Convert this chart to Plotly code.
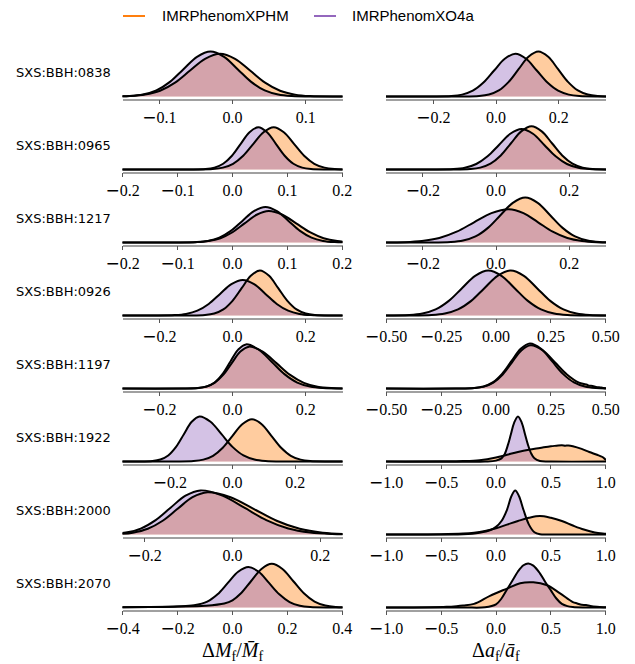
import plotly.graph_objects as go

W, H = 635, 664
ORANGE = "#ff7f0e"
PURPLE = "#9467bd"
ORANGE_FILL = "rgba(255,127,14,0.4)"
PURPLE_FILL = "rgba(148,103,189,0.4)"

sims = ["SXS:BBH:0838", "SXS:BBH:0965", "SXS:BBH:1217", "SXS:BBH:0926",
        "SXS:BBH:1197", "SXS:BBH:1922", "SXS:BBH:2000", "SXS:BBH:2070"]
series_names = ["IMRPhenomXPHM", "IMRPhenomXO4a"]

mf_halfrange = [0.15, 0.2, 0.2, 0.3, 0.3, 0.35, 0.25, 0.4]
af_halfrange = [0.35, 0.3, 0.3, 0.5, 0.5, 1.0, 1.0, 1.0]

mf_tickvals = [[-0.1, 0.0, 0.1], [-0.2, -0.1, 0.0, 0.1, 0.2], [-0.2, -0.1, 0.0, 0.1, 0.2],
               [-0.2, 0.0, 0.2], [-0.2, 0.0, 0.2], [-0.2, 0.0, 0.2], [-0.2, 0.0, 0.2],
               [-0.4, -0.2, 0.0, 0.2, 0.4]]
mf_ticktext = [["−0.1", "0.0", "0.1"], ["−0.2", "−0.1", "0.0", "0.1", "0.2"],
               ["−0.2", "−0.1", "0.0", "0.1", "0.2"], ["−0.2", "0.0", "0.2"],
               ["−0.2", "0.0", "0.2"], ["−0.2", "0.0", "0.2"], ["−0.2", "0.0", "0.2"],
               ["−0.4", "−0.2", "0.0", "0.2", "0.4"]]
af_tickvals = [[-0.2, 0.0, 0.2], [-0.2, 0.0, 0.2], [-0.2, 0.0, 0.2],
               [-0.5, -0.25, 0.0, 0.25, 0.5], [-0.5, -0.25, 0.0, 0.25, 0.5],
               [-1.0, -0.5, 0.0, 0.5, 1.0], [-1.0, -0.5, 0.0, 0.5, 1.0], [-1.0, -0.5, 0.0, 0.5, 1.0]]
af_ticktext = [["−0.2", "0.0", "0.2"], ["−0.2", "0.0", "0.2"], ["−0.2", "0.0", "0.2"],
               ["−0.50", "−0.25", "0.00", "0.25", "0.50"], ["−0.50", "−0.25", "0.00", "0.25", "0.50"],
               ["−1.0", "−0.5", "0.0", "0.5", "1.0"], ["−1.0", "−0.5", "0.0", "0.5", "1.0"],
               ["−1.0", "−0.5", "0.0", "0.5", "1.0"]]

# ---- densities (x, relative height) ----
# SXS:BBH:0838
mf_0838_xphm = ([-0.181, -0.140, -0.1195, -0.099, -0.0785, -0.058, -0.0375, -0.017, 0.0035, 0.024, 0.0445, 0.065, 0.0855, 0.106, 0.147, 0.2],
                [0, 0.010, 0.042, 0.128, 0.309, 0.577, 0.838, 0.95, 0.838, 0.577, 0.309, 0.128, 0.042, 0.010, 0, 0])
mf_0838_xo4a = ([-0.2, -0.178, -0.141, -0.1225, -0.104, -0.0855, -0.067, -0.0485, -0.030, -0.0115, 0.007, 0.0255, 0.044, 0.0625, 0.081, 0.118, 0.2],
                [0, 0, 0.011, 0.044, 0.135, 0.325, 0.607, 0.882, 1.0, 0.882, 0.607, 0.325, 0.135, 0.044, 0.011, 0, 0])
af_0838_xphm = ([-0.4, -0.117, -0.054, -0.0225, 0.009, 0.0405, 0.072, 0.1035, 0.135, 0.1665, 0.198, 0.2295, 0.261, 0.2925, 0.324, 0.387],
                [0, 0, 0.011, 0.044, 0.135, 0.325, 0.607, 0.882, 1.0, 0.882, 0.607, 0.325, 0.135, 0.044, 0.011, 0])
af_0838_xo4a = ([-0.4, -0.210, -0.142, -0.108, -0.074, -0.040, -0.006, 0.028, 0.062, 0.096, 0.130, 0.164, 0.198, 0.232, 0.266, 0.334, 0.4],
                [0, 0, 0.010, 0.042, 0.128, 0.309, 0.577, 0.838, 0.95, 0.838, 0.577, 0.309, 0.128, 0.042, 0.010, 0, 0])
# SXS:BBH:0965
mf_0965_xphm = ([-0.25, -0.073, -0.036, -0.0175, 0.001, 0.0195, 0.038, 0.0565, 0.075, 0.0935, 0.112, 0.1305, 0.149, 0.1675, 0.186, 0.223],
                [0, 0, 0.010, 0.041, 0.127, 0.306, 0.571, 0.829, 0.94, 0.829, 0.571, 0.306, 0.127, 0.041, 0.010, 0])
mf_0965_xo4a = ([-0.25, -0.081, -0.049, -0.033, -0.017, -0.001, 0.015, 0.031, 0.047, 0.063, 0.079, 0.095, 0.111, 0.127, 0.143, 0.175, 0.25],
                [0, 0, 0.010, 0.041, 0.127, 0.306, 0.571, 0.829, 0.94, 0.829, 0.571, 0.306, 0.127, 0.041, 0.010, 0, 0])
af_0965_xphm = ([-0.35, -0.127, -0.071, -0.043, -0.015, 0.013, 0.041, 0.069, 0.097, 0.125, 0.153, 0.181, 0.209, 0.237, 0.265, 0.321],
                [0, 0, 0.011, 0.042, 0.130, 0.312, 0.583, 0.847, 0.96, 0.847, 0.583, 0.312, 0.130, 0.042, 0.011, 0])
af_0965_xo4a = ([-0.35, -0.178, -0.116, -0.085, -0.054, -0.023, 0.008, 0.039, 0.070, 0.101, 0.132, 0.163, 0.194, 0.225, 0.256, 0.318, 0.35],
                [0, 0, 0.010, 0.040, 0.122, 0.293, 0.546, 0.794, 0.90, 0.794, 0.546, 0.293, 0.122, 0.040, 0.010, 0, 0])
# SXS:BBH:1217
mf_1217_xphm = ([-0.25, -0.110, -0.066, -0.044, -0.022, 0.000, 0.022, 0.044, 0.066, 0.091, 0.116, 0.141, 0.166, 0.191, 0.216, 0.266],
                [0, 0, 0.008, 0.031, 0.095, 0.228, 0.425, 0.617, 0.70, 0.617, 0.425, 0.228, 0.095, 0.031, 0.008, 0])
mf_1217_xo4a = ([-0.25, -0.108, -0.066, -0.045, -0.024, -0.003, 0.018, 0.039, 0.060, 0.081, 0.102, 0.123, 0.144, 0.165, 0.186, 0.228, 0.25],
                [0, 0, 0.009, 0.035, 0.107, 0.257, 0.480, 0.697, 0.79, 0.697, 0.480, 0.257, 0.107, 0.035, 0.009, 0, 0])
af_1217_xphm = ([-0.35, -0.192, -0.124, -0.090, -0.056, -0.022, 0.012, 0.046, 0.080, 0.114, 0.148, 0.182, 0.216, 0.250, 0.284, 0.352],
                [0, 0, 0.011, 0.044, 0.135, 0.325, 0.607, 0.882, 1.0, 0.882, 0.607, 0.325, 0.135, 0.044, 0.011, 0])
af_1217_xo4a = ([-0.4, -0.345, -0.250, -0.2025, -0.155, -0.1075, -0.060, -0.0125, 0.035, 0.075, 0.115, 0.155, 0.195, 0.235, 0.275, 0.355],
                [0, 0, 0.008, 0.033, 0.100, 0.240, 0.449, 0.653, 0.74, 0.653, 0.449, 0.240, 0.100, 0.033, 0.008, 0])
# SXS:BBH:0926
mf_0926_xphm = ([-0.35, -0.125, -0.075, -0.050, -0.025, 0.000, 0.025, 0.050, 0.075, 0.100, 0.125, 0.150, 0.175, 0.200, 0.225, 0.275, 0.35],
                [0, 0, 0.011, 0.044, 0.135, 0.325, 0.607, 0.882, 1.0, 0.882, 0.607, 0.325, 0.135, 0.044, 0.011, 0, 0])
mf_0926_xo4a = ([-0.35, -0.220, -0.158, -0.127, -0.096, -0.065, -0.034, -0.003, 0.028, 0.059, 0.090, 0.121, 0.152, 0.183, 0.214, 0.276, 0.35],
                [0, 0, 0.009, 0.035, 0.107, 0.257, 0.480, 0.697, 0.79, 0.697, 0.480, 0.257, 0.107, 0.035, 0.009, 0, 0])
af_0926_xphm = ([-0.6, -0.413, -0.293, -0.233, -0.173, -0.113, -0.053, 0.007, 0.067, 0.127, 0.187, 0.247, 0.307, 0.367, 0.427, 0.547],
                [0, 0, 0.011, 0.044, 0.135, 0.325, 0.607, 0.882, 1.0, 0.882, 0.607, 0.325, 0.135, 0.044, 0.011, 0])
af_0926_xo4a = ([-0.515, -0.395, -0.335, -0.275, -0.215, -0.155, -0.095, -0.035, 0.025, 0.085, 0.145, 0.205, 0.265, 0.325, 0.445, 0.6],
                [0, 0.011, 0.044, 0.135, 0.325, 0.607, 0.882, 1.0, 0.882, 0.607, 0.325, 0.135, 0.044, 0.011, 0, 0])
# SXS:BBH:1197
mf_1197_xphm = ([-0.35, -0.143, -0.096, -0.0725, -0.049, -0.0255, -0.002, 0.0215, 0.045, 0.0825, 0.120, 0.1575, 0.195, 0.2325, 0.270, 0.345],
                [0, 0, 0.010, 0.041, 0.126, 0.302, 0.564, 0.820, 0.93, 0.820, 0.564, 0.302, 0.126, 0.041, 0.010, 0])
mf_1197_xo4a = ([-0.35, -0.135, -0.092, -0.0705, -0.049, -0.0275, -0.006, 0.0155, 0.037, 0.072, 0.107, 0.142, 0.177, 0.212, 0.247, 0.317, 0.35],
                [0, 0, 0.011, 0.043, 0.132, 0.319, 0.595, 0.864, 0.98, 0.864, 0.595, 0.319, 0.132, 0.043, 0.011, 0, 0])
af_1197_xphm = ([-0.6, -0.182, -0.097, -0.0545, -0.012, 0.0305, 0.073, 0.1155, 0.158, 0.213, 0.268, 0.323, 0.378, 0.400, 0.412, 0.425, 0.440, 0.455, 0.470, 0.488, 0.52, 0.6],
                [0, 0, 0.011, 0.042, 0.130, 0.312, 0.583, 0.847, 0.96, 0.847, 0.583, 0.312, 0.130, 0.100, 0.090, 0.062, 0.056, 0.032, 0.028, 0.011, 0.002, 0])
af_1197_xo4a = ([-0.6, -0.185, -0.100, -0.0575, -0.015, 0.0275, 0.070, 0.1125, 0.155, 0.205, 0.255, 0.305, 0.355, 0.405, 0.455, 0.555, 0.6],
                [0, 0, 0.011, 0.044, 0.135, 0.325, 0.607, 0.882, 1.0, 0.882, 0.607, 0.325, 0.135, 0.044, 0.011, 0, 0])
# SXS:BBH:1922
mf_1922_xphm = ([-0.4, -0.186, -0.124, -0.093, -0.062, -0.031, 0.000, 0.031, 0.062, 0.093, 0.124, 0.155, 0.186, 0.217, 0.248, 0.310, 0.4],
                [0, 0, 0.010, 0.041, 0.127, 0.306, 0.571, 0.829, 0.94, 0.829, 0.571, 0.306, 0.127, 0.041, 0.010, 0, 0])
mf_1922_xo4a = ([-0.4, -0.305, -0.255, -0.230, -0.205, -0.180, -0.155, -0.130, -0.105, -0.070, -0.035, 0.000, 0.035, 0.070, 0.105, 0.175, 0.4],
                [0, 0, 0.011, 0.044, 0.135, 0.325, 0.607, 0.882, 1.0, 0.882, 0.607, 0.325, 0.135, 0.044, 0.011, 0, 0])
af_1922_xphm = ([-1.05, -0.5, -0.3, -0.15, 0.0, 0.1, 0.2, 0.3, 0.4, 0.5, 0.55, 0.6, 0.63, 0.66, 0.7, 0.78, 0.85, 0.92, 0.97, 1.0, 1.05],
                [0, 0.003, 0.01, 0.03, 0.09, 0.15, 0.21, 0.26, 0.30, 0.34, 0.35, 0.36, 0.352, 0.357, 0.34, 0.28, 0.21, 0.15, 0.10, 0.04, 0])
af_1922_xo4a = ([-1.05, -0.1, 0.0, 0.05, 0.08, 0.11, 0.135, 0.165, 0.2, 0.235, 0.265, 0.29, 0.32, 0.35, 0.4, 0.5, 1.05],
                [0, 0.0, 0.02, 0.07, 0.17, 0.38, 0.6, 0.86, 1.0, 0.86, 0.6, 0.38, 0.18, 0.07, 0.01, 0, 0])
# SXS:BBH:2000
mf_2000_xphm = ([-0.329, -0.261, -0.227, -0.193, -0.159, -0.125, -0.091, -0.057, -0.0045, 0.048, 0.1005, 0.153, 0.2055, 0.258, 0.363],
                [0, 0.010, 0.041, 0.127, 0.306, 0.571, 0.829, 0.94, 0.829, 0.571, 0.306, 0.127, 0.041, 0.010, 0])
mf_2000_xo4a = ([-0.345, -0.277, -0.243, -0.209, -0.175, -0.141, -0.107, -0.073, -0.023, 0.027, 0.077, 0.127, 0.177, 0.227, 0.327],
                [0, 0.011, 0.043, 0.132, 0.319, 0.595, 0.864, 0.98, 0.864, 0.595, 0.319, 0.132, 0.043, 0.011, 0])
af_2000_xphm = ([-1.05, -0.5, -0.3, -0.2, -0.1, 0.0, 0.1, 0.2, 0.3, 0.4, 0.5, 0.6, 0.7, 0.8, 0.9, 1.0, 1.05],
                [0, 0.005, 0.02, 0.04, 0.08, 0.14, 0.22, 0.30, 0.37, 0.41, 0.37, 0.30, 0.20, 0.11, 0.045, 0.015, 0])
af_2000_xo4a = ([-1.05, -0.5, -0.3, -0.15, -0.05, 0.0, 0.05, 0.1, 0.14, 0.175, 0.21, 0.25, 0.3, 0.35, 0.4, 0.5, 1.05],
                [0, 0.0, 0.005, 0.04, 0.10, 0.17, 0.30, 0.55, 0.85, 0.98, 0.85, 0.55, 0.22, 0.05, 0.005, 0, 0])
# SXS:BBH:2070
mf_2070_xphm = ([-0.45, -0.3, -0.2, -0.1, -0.03, 0.0, 0.03, 0.068, 0.1055, 0.143, 0.182, 0.221, 0.26, 0.299, 0.338, 0.377, 0.45],
                [0, 0.01, 0.02, 0.04, 0.09, 0.16, 0.31, 0.589, 0.856, 0.97, 0.856, 0.589, 0.315, 0.131, 0.043, 0.011, 0])
mf_2070_xo4a = ([-0.45, -0.3, -0.2, -0.14, -0.092, -0.0545, -0.017, 0.0205, 0.058, 0.0955, 0.133, 0.1705, 0.208, 0.2455, 0.283, 0.358, 0.45],
                [0, 0.01, 0.025, 0.05, 0.13, 0.293, 0.546, 0.794, 0.90, 0.794, 0.546, 0.293, 0.122, 0.040, 0.010, 0, 0])
af_2070_xphm = ([-1.05, -0.6, -0.45, -0.36, -0.3, -0.2, -0.055, 0.1, 0.22, 0.34, 0.46, 0.58, 0.7, 0.74, 0.78, 0.82, 0.86, 0.92, 1.0, 1.05],
                [0, 0.005, 0.015, 0.03, 0.045, 0.08, 0.26, 0.42, 0.54, 0.56, 0.50, 0.32, 0.12, 0.09, 0.06, 0.055, 0.032, 0.015, 0.005, 0])
af_2070_xo4a = ([-1.05, -0.3, -0.1, 0.0, 0.05, 0.1, 0.15, 0.2, 0.25, 0.294, 0.34, 0.4, 0.45, 0.5, 0.55, 0.6, 0.65, 0.7, 0.8, 1.05],
                [0, 0, 0.005, 0.07, 0.2, 0.4, 0.6, 0.8, 0.94, 0.98, 0.93, 0.76, 0.56, 0.38, 0.2, 0.08, 0.03, 0.01, 0, 0])

mf_xphm = [mf_0838_xphm, mf_0965_xphm, mf_1217_xphm, mf_0926_xphm, mf_1197_xphm, mf_1922_xphm, mf_2000_xphm, mf_2070_xphm]
mf_xo4a = [mf_0838_xo4a, mf_0965_xo4a, mf_1217_xo4a, mf_0926_xo4a, mf_1197_xo4a, mf_1922_xo4a, mf_2000_xo4a, mf_2070_xo4a]
af_xphm = [af_0838_xphm, af_0965_xphm, af_1217_xphm, af_0926_xphm, af_1197_xphm, af_1922_xphm, af_2000_xphm, af_2070_xphm]
af_xo4a = [af_0838_xo4a, af_0965_xo4a, af_1217_xo4a, af_0926_xo4a, af_1197_xo4a, af_1922_xo4a, af_2000_xo4a, af_2070_xo4a]


def fmt_tick(s):
    # long math-style minus sign
    if s.startswith("−"):
        return "<span style=\"font-family:'DejaVu Sans';font-size:17px\">−</span>" + s[1:]
    return s


# ---- layout geometry (pixels) ----
col_left_px = [122.5, 386.0]
col_width_px = 220.0
unit_px = 45.0
y_lo, y_hi = -0.045, 1.04
panel_h = (y_hi - y_lo) * unit_px
baseline0, row_step = 96.5, 73.0
SERIF = "Liberation Serif"

fig = go.Figure()
layout = dict(width=W, height=H, margin=dict(l=0, r=0, t=0, b=0, autoexpand=False),
              paper_bgcolor="white", plot_bgcolor="white", showlegend=False,
              font=dict(family=SERIF, size=16, color="black"))

annotations = []
for r in range(8):
    base = baseline0 + row_step * r
    bottom = base - y_lo * unit_px
    top = bottom - panel_h
    ydom = [1 - bottom / H, 1 - top / H]
    for c in range(2):
        n = r * 2 + c + 1
        xa = "x" if n == 1 else f"x{n}"
        ya = "y" if n == 1 else f"y{n}"
        hr = mf_halfrange[r] if c == 0 else af_halfrange[r]
        tv = mf_tickvals[r] if c == 0 else af_tickvals[r]
        tt = mf_ticktext[r] if c == 0 else af_ticktext[r]
        curves = [(mf_xphm[r], mf_xo4a[r]), (af_xphm[r], af_xo4a[r])][c]
        fills = [ORANGE_FILL, PURPLE_FILL]
        for cv, fc in zip(curves, fills):
            fig.add_trace(go.Scatter(x=cv[0], y=cv[1], mode="lines", xaxis=xa, yaxis=ya,
                                     line=dict(width=0, shape="spline", smoothing=1.0),
                                     fill="tozeroy", fillcolor=fc, hoverinfo="skip"))
        for cv in curves:
            fig.add_trace(go.Scatter(x=cv[0], y=cv[1], mode="lines", xaxis=xa, yaxis=ya,
                                     line=dict(color="black", width=2, shape="spline", smoothing=1.0),
                                     hoverinfo="skip"))
        x0 = col_left_px[c] / W
        x1 = (col_left_px[c] + col_width_px) / W
        key = "" if n == 1 else str(n)
        layout["xaxis" + key] = dict(domain=[x0, x1], range=[-hr * 1.002, hr * 1.002], anchor=ya,
                                     tickmode="array", tickvals=tv, ticktext=[fmt_tick(s) for s in tt],
                                     showline=True, linecolor="#a0a0a0", linewidth=1.5,
                                     ticks="outside", ticklen=4, tickwidth=1, tickcolor="#555555",
                                     showgrid=False, zeroline=False, automargin=False,
                                     tickfont=dict(family=SERIF, size=16, color="black"))
        layout["yaxis" + key] = dict(domain=ydom, range=[y_lo, y_hi], anchor=xa, visible=False,
                                     showgrid=False, zeroline=False)
    annotations.append(dict(x=113 / W, y=1 - (base - 24) / H, xref="paper", yref="paper",
                            text=sims[r], showarrow=False, xanchor="right", yanchor="middle",
                            font=dict(family="DejaVu Sans", size=13, color="black")))

# axis titles
annotations.append(dict(x=232.5 / W, y=1 - 651 / H, xref="paper", yref="paper",
                        text="Δ<i>M</i><sub>f</sub>/<i>M̄</i><sub>f</sub>", showarrow=False,
                        xanchor="center", yanchor="middle",
                        font=dict(family=SERIF, size=20, color="black")))
annotations.append(dict(x=496 / W, y=1 - 651 / H, xref="paper", yref="paper",
                        text="Δ<i>a</i><sub>f</sub>/<i>ā</i><sub>f</sub>", showarrow=False,
                        xanchor="center", yanchor="middle",
                        font=dict(family=SERIF, size=20, color="black")))

# legend (drawn manually)
shapes = []
leg_items = [(123, 145, 160, ORANGE, series_names[0]), (314, 336, 350, PURPLE, series_names[1])]
for lx0, lx1, tx, col, name in leg_items:
    shapes.append(dict(type="line", xref="paper", yref="paper", x0=lx0 / W, x1=lx1 / W,
                       y0=1 - 16 / H, y1=1 - 16 / H, line=dict(color=col, width=2)))
    annotations.append(dict(x=tx / W, y=1 - 16 / H, xref="paper", yref="paper", text=name,
                            showarrow=False, xanchor="left", yanchor="middle",
                            font=dict(family="Liberation Sans", size=15, color="black")))

layout["annotations"] = annotations
layout["shapes"] = shapes
fig.update_layout(**layout)
fig.write_html("out.html")
